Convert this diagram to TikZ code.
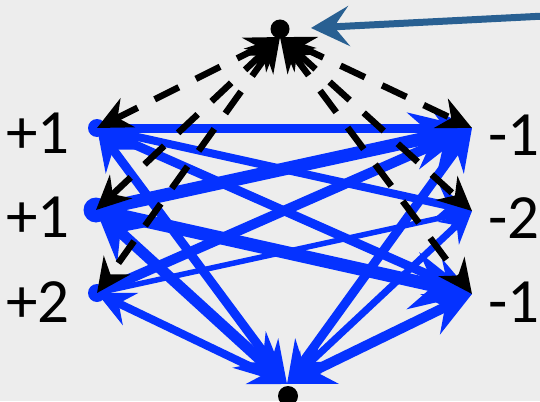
\documentclass[tikz,border=0pt]{standalone}
\usepackage{fontspec}
\setmainfont{Carlito}
\usetikzlibrary{arrows.meta}
\definecolor{bg}{RGB}{237,237,237}
\definecolor{eblue}{RGB}{5,50,255}
\definecolor{sblue}{RGB}{41,96,146}
\begin{document}
\begin{tikzpicture}[x=1pt,y=-1pt,
  bhead/.tip={Stealth[length=0pt 4.6, width=0pt 4.4, inset=0pt 1.6]},
  dhead/.tip={Stealth[length=34pt, width=32pt, inset=11pt]},
  blueone/.style={draw=eblue, line cap=round, -bhead},
  bluetwo/.style={draw=eblue, line cap=round, bhead-bhead},
  dashedge/.style={draw=black, line width=6.5pt, dash pattern=on 27pt off 19pt, dhead-dhead},
  lab/.style={font=\fontsize{63}{63}\selectfont, inner sep=0pt, anchor=base west},
  dot/.style={circle, fill=black, inner sep=0pt, minimum size=#1},
  bdot/.style={circle, fill=eblue, inner sep=0pt, minimum size=#1}
]
\fill[bg] (0,0) rectangle (540,401);
\useasboundingbox (0,0) rectangle (540,401);

% positions
\coordinate (L1) at (97,128);
\coordinate (L2) at (96,210);
\coordinate (L3) at (97,293);
\coordinate (R1) at (472,128);
\coordinate (R2) at (472,211);
\coordinate (R3) at (472,294);
\coordinate (sa) at (280,37);
\coordinate (ta) at (287,384);
\coordinate (feed) at (545,16);

% dots
\node[bdot=18pt] (d1) at (L1) {};
\node[bdot=25pt] (d2) at (L2) {};
\node[bdot=18pt] (d3) at (L3) {};
\node[dot=19pt] (s) at (280,29) {};
\node[dot=20pt] (t) at (288,396) {};

% blue edges left to right
\draw[blueone, line width=9pt] (L1) -- (R1);
\draw[blueone, line width=8pt] (L1) -- (R2);
\draw[blueone, line width=9pt] (L1) -- (R3);
\draw[blueone, line width=13pt] (L2) -- (R1);
\draw[blueone, line width=13pt] (L2) -- (R3);
\draw[blueone, line width=10pt] (L3) -- (R1);
\draw[blueone, line width=5.5pt] (L3) -- (R2);

% blue edges to sink
\draw[bluetwo, line width=9pt] (L1) -- (ta);
\draw[bluetwo, line width=11pt] (L2) -- (ta);
\draw[bluetwo, line width=8pt] (L3) -- (ta);
\draw[bluetwo, line width=9pt] (R1) -- (ta);
\draw[bluetwo, line width=7pt] (R2) -- (ta);
\draw[bluetwo, line width=10pt] (R3) -- (ta);

% dashed edges from source
\foreach \n in {L1,L2,L3,R1,R2,R3}
  \draw[dashedge] (sa) -- (\n);

% incoming arrow
\draw[draw=sblue, line width=7pt, -{Stealth[length=38pt, width=40pt, inset=15pt]}] (feed) -- (311,28);

% labels
\node[lab] (l1) at (6,153) {+1};
\node[lab] (l2) at (6,237) {+1};
\node[lab] (l3) at (6,322) {+2};
\node[lab] (r1) at (488,155) {-1};
\node[lab] (r2) at (488,238) {-2};
\node[lab] (r3) at (488,322) {-1};
\end{tikzpicture}
\end{document}
